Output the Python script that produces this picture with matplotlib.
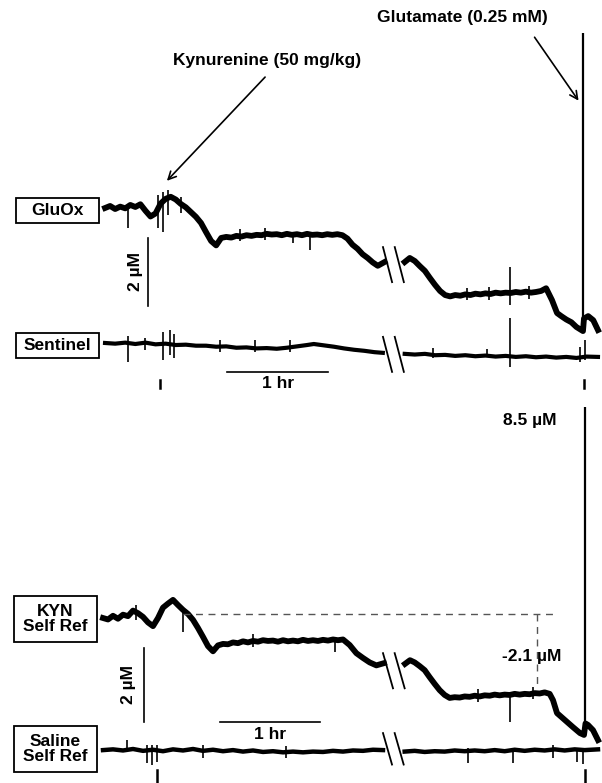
import matplotlib
matplotlib.use("Agg")
import matplotlib.pyplot as plt
import matplotlib.transforms as mtransforms
from matplotlib.patches import Rectangle
import numpy as np

plt.rcParams['font.family'] = ['Liberation Sans', 'DejaVu Sans']
plt.rcParams['font.weight'] = 'bold'

nan = np.nan

# ---- top panel: GluOx / Sentinel (time in min, signal in uM) ----
gluox_t = [0, 3, 6, 9, 12, 15, 18, 21, 24, 27, 30, 33, 36, 39, 42, 45, 48, 51, 54, 57, 60, 63, 66,
           69, 72, 75, 78, 81, 84, 87, 90, 93, 96, 99, 102, 105, 108, 111, 114, 117, 120, 123, 126,
           129, 132, 135, 138, 141, 144, 147, 150, 153, 156, 159, 162, 166, nan,
           178, 181, 184, 187, 190, 193, 196, 199, 202, 205,
           208, 211, 214, 217, 220, 223, 226, 229, 232, 235, 238, 241, 244, 247, 250, 253, 256, 259,
           262, 265.5, 268.5, 271, 274, 277, 280, 283.9, 284.5, 287, 290, 292.8]
gluox_c = [0, 0.06, -0.03, 0.04, -0.01, 0.09, 0.03, 0.11, -0.08, -0.25, -0.16, 0.13, 0.27, 0.33,
           0.25, 0.12, 0.02, -0.12, -0.26, -0.44, -0.71, -0.97, -1.10,
           -0.88, -0.85, -0.87, -0.82, -0.84, -0.80, -0.82, -0.79, -0.80, -0.76, -0.78, -0.77, -0.80,
           -0.76, -0.79, -0.77, -0.80, -0.76, -0.79, -0.78, -0.80, -0.77, -0.79, -0.77, -0.80,
           -0.90, -1.08, -1.20, -1.36, -1.47, -1.60, -1.70, -1.59, nan,
           -1.59, -1.47, -1.56, -1.71, -1.85, -2.06, -2.26, -2.44, -2.56, -2.60,
           -2.56, -2.58, -2.54, -2.56, -2.52, -2.54, -2.51, -2.53, -2.49, -2.51, -2.49, -2.50, -2.47,
           -2.49, -2.46, -2.49, -2.47, -2.44, -2.36, -2.71, -3.09, -3.18, -3.28, -3.36, -3.50, -3.62,
           -3.25, -3.18, -3.30, -3.59]
gluox_spike_t = [13.7, 31.5, 34.5, 37.4, 45.0, 80.0, 95.0, 111.7, 121.8, 215.0, 228.0, 240.6, 252.0]
gluox_spike_lo = [-0.59, -0.59, -0.71, -0.20, -0.15, -0.98, -0.95, -1.03, -1.24, -2.72, -2.70, -2.85, -2.68]
gluox_spike_hi = [0.12, 0.38, 0.47, 0.53, 0.32, -0.62, -0.60, -0.70, -0.76, -2.36, -2.32, -1.74, -2.28]
glu_spike_t = 284.0
glu_spike_top = 5.15

sentinel_t = [0, 6, 12, 18, 24, 30, 36, 42, 48, 54, 60, 66, 72, 78, 84, 90, 96, 102, 108, 114, 120,
              124, 130, 136, 142, 148, 154, 160, 165, nan,
              178, 184, 190, 196, 202, 208, 214, 220, 226, 232, 238, 244, 250, 256, 262, 268, 274,
              280, 286, 292.8]
sentinel_c = [0, -0.02, 0.01, -0.03, 0.01, -0.04, -0.02, -0.06, -0.05, -0.08, -0.08, -0.11, -0.10,
              -0.14, -0.13, -0.16, -0.15, -0.17, -0.14, -0.10, -0.06, -0.03, -0.07, -0.11, -0.16,
              -0.20, -0.23, -0.27, -0.29, nan,
              -0.32, -0.34, -0.32, -0.36, -0.35, -0.38, -0.36, -0.39, -0.37, -0.40, -0.38, -0.41,
              -0.39, -0.42, -0.40, -0.43, -0.41, -0.44, -0.40, -0.41]
sentinel_spike_t = [13.7, 23.8, 34.5, 38.6, 41.0, 68.3, 89.1, 109.9, 194.8, 226.9, 240.6, 282.2, 285.1]
sentinel_spike_lo = [-0.56, -0.21, -0.50, -0.35, -0.44, -0.26, -0.26, -0.26, -0.44, -0.38, -0.71, -0.56, -0.50]
sentinel_spike_hi = [0.21, 0.15, 0.32, 0.38, 0.26, 0.09, 0.09, 0.09, -0.15, -0.18, 0.74, -0.12, 0.09]

# ---- bottom panel: KYN self ref / Saline self ref ----
kyn_t = [0, 3, 6, 9, 12, 15, 18, 21, 24, 27, 30, 33, 36, 39, 42, 45, 48, 51, 54, 57, 60, 63, 66,
         69, 72, 75, 78, 81, 84, 87, 90, 93, 96, 99, 102, 105, 108, 111, 114, 117, 120, 123, 126,
         129, 132, 135, 138, 141, 144, 148, 152, 156, 160, 164, 168.6, nan,
         181.2, 184.2, 187, 190, 193, 196, 199, 202, 205, 208,
         211, 214, 217, 220, 223, 226, 229, 232, 235, 238, 241, 244, 247, 250, 253, 256, 259, 262,
         265, 268, 270, 272.4, 277.2, 282, 286.2, 288.6, 289.5, 291, 294, 297]
kyn_c = [0, -0.04, 0.06, -0.02, 0.09, 0.05, 0.20, 0.13, 0.03, -0.12, -0.22, 0, 0.28, 0.39, 0.49,
         0.35, 0.22, 0.11, -0.05, -0.27, -0.51, -0.76, -0.90,
         -0.74, -0.70, -0.71, -0.66, -0.68, -0.63, -0.66, -0.62, -0.64, -0.60, -0.62, -0.61, -0.64,
         -0.60, -0.63, -0.61, -0.63, -0.59, -0.62, -0.60, -0.62, -0.59, -0.61, -0.58, -0.60, -0.58,
         -0.73, -0.95, -1.08, -1.20, -1.28, -1.22, nan,
         -1.24, -1.14, -1.20, -1.30, -1.41, -1.60, -1.78, -1.95, -2.08, -2.16,
         -2.14, -2.15, -2.12, -2.13, -2.10, -2.12, -2.09, -2.10, -2.07, -2.09, -2.07, -2.08, -2.05,
         -2.07, -2.05, -2.06, -2.03, -2.04, -2.01, -2.05, -2.22, -2.57, -2.76, -2.95, -3.11, -3.16,
         -2.85, -2.89, -3.03, -3.30]
kyn_spike_t = [20.0, 48.0, 90.0, 139.2, 225.0, 244.2, 258.0]
kyn_spike_lo = [-0.05, -0.38, -0.78, -0.92, -2.28, -2.81, -2.20]
kyn_spike_hi = [0.36, 0.22, -0.44, -0.59, -1.92, -2.05, -1.86]
kyn_glu_t = 288.9
kyn_glu_top = 5.70

saline_t = [0, 6, 12, 18, 24, 30, 36, 42, 48, 54, 60, 66, 72, 78, 84, 90, 96, 102, 108, 114, 120,
            126, 132, 138, 144, 150, 156, 162, 168, nan,
            181, 187, 193, 199, 205, 211, 217, 223, 229, 235, 241, 247, 253, 259, 265, 271, 277,
            283, 289, 297]
saline_c = [0, 0.02, -0.01, 0.03, -0.02, 0.01, -0.03, 0.02, -0.01, 0.03, -0.02, 0.01, -0.03, 0.0,
            -0.04, -0.01, -0.05, -0.03, -0.06, -0.04, -0.06, -0.04, -0.05, -0.02, -0.04, -0.01,
            -0.02, 0.01, 0, nan,
            -0.04, -0.02, -0.05, -0.03, -0.04, -0.01, -0.03, -0.01, -0.03, 0.0, -0.03, 0.01, -0.02,
            0.01, -0.01, 0.02, -0.01, 0.02, 0.0, 0.02]
saline_spike_t = [14.4, 26.4, 29.4, 32.4, 60.0, 110.0, 219.0, 246.0, 270.0, 284.4, 288.0]
saline_spike_lo = [-0.05, -0.35, -0.41, -0.32, -0.20, -0.22, -0.35, -0.35, -0.20, -0.32, -0.38]
saline_spike_hi = [0.27, 0.14, 0.14, 0.14, 0.15, 0.12, 0.05, 0.05, 0.14, 0.05, 0.05]

drop_uM = 2.1
glu_uM = 8.5

fig = plt.figure(figsize=(6.02, 7.83), dpi=100)
pix = mtransforms.Affine2D().scale(1 / 602, -1 / 783).translate(0, 1) + fig.transFigure

ax1 = fig.add_axes([0, 1 - 390 / 783, 1, 390 / 783])
ax1.set_xlim(-62.4, 295.2)
ax1.set_ylim(-5.353, 6.118)
ax2 = fig.add_axes([0, 0, 1, 393 / 783])
ax2.set_xlim(-61.8, 299.4)
ax2.set_ylim(-4.459, 6.162)
for ax in (ax1, ax2):
    ax.axis('off')

off_sent = -3.97
off_sal = -3.57


def trace(ax, t, c, st, lo, hi, off, lw):
    ax.plot(t, np.array(c) + off, color='black', lw=lw, solid_joinstyle='round')
    ax.vlines(st, np.array(lo) + off, np.array(hi) + off, color='black', lw=1.2)


trace(ax1, gluox_t, gluox_c, gluox_spike_t, gluox_spike_lo, gluox_spike_hi, 0, 4.2)
trace(ax1, sentinel_t, sentinel_c, sentinel_spike_t, sentinel_spike_lo, sentinel_spike_hi, off_sent, 3.0)
trace(ax2, kyn_t, kyn_c, kyn_spike_t, kyn_spike_lo, kyn_spike_hi, 0, 4.2)
trace(ax2, saline_t, saline_c, saline_spike_t, saline_spike_lo, saline_spike_hi, off_sal, 3.2)

# glutamate responses
ax1.vlines(glu_spike_t, gluox_c[gluox_t.index(283.9)], glu_spike_top, color='black', lw=1.6)
ax2.vlines(kyn_glu_t, kyn_c[kyn_t.index(288.6)], kyn_glu_top, color='black', lw=1.6)


def breakmark(ax, t0, c0, dt, dc):
    for s in (0, 7):
        ax.plot([t0 + s, t0 + s + dt], [c0, c0 - dc], color='black', lw=1.3)


breakmark(ax1, 165.1, -1.15, 5.4, 1.03)
breakmark(ax1, 165.1, -3.79, 5.4, 1.03)
breakmark(ax2, 168.0, -0.95, 6.0, 0.95)
breakmark(ax2, 168.0, -3.11, 5.4, 0.85)

fs = 12.5
# scale bars
ax1.plot([72.5, 72.5 + 60], [-4.82, -4.82], color='black', lw=1.2)
ax1.text(102.5, -5.15, '1 hr', ha='center', va='center', fontsize=fs)
ax1.plot([25.5, 25.5], [-0.88, -2.88], color='black', lw=1.2)
ax1.text(17.8, -1.88, '2 µM', ha='center', va='center', rotation=90, fontsize=fs)
ax2.plot([70.2, 70.2 + 60], [-2.81, -2.81], color='black', lw=1.2)
ax2.text(100.2, -3.16, '1 hr', ha='center', va='center', fontsize=fs)
ax2.plot([24.6, 24.6], [-0.81, -2.81], color='black', lw=1.2)
ax2.text(15.0, -1.81, '2 µM', ha='center', va='center', rotation=90, fontsize=fs)

# injection markers
for t in (32.7, 284.5):
    ax1.plot([t, t], [-5.06, -5.29], color='black', lw=1.8)
for t in (32.4, 289.2):
    ax2.plot([t, t], [-4.11, -4.46], color='black', lw=1.8, clip_on=False)

# annotations
ax1.annotate('', xy=(35.6, 0.74), xytext=(96.2, 3.91),
             arrowprops=dict(arrowstyle='->', lw=1.2, mutation_scale=14, color='black'))
ax1.text(96.2, 4.35, 'Kynurenine (50 mg/kg)', ha='center', va='center', fontsize=fs)
ax1.annotate('', xy=(282.2, 3.09), xytext=(254.2, 5.09),
             arrowprops=dict(arrowstyle='->', lw=1.2, mutation_scale=14, color='black'))
ax1.text(212.1, 5.59, 'Glutamate (0.25 mM)', ha='center', va='center', fontsize=fs)

peak = 0.11
ax2.plot([48.0, 270.0], [peak, peak], color='#555555', lw=1.0, ls=(0, (5, 4)))
ax2.plot([260.4, 260.4], [peak, peak - drop_uM + 0.1], color='#555555', lw=1.0, ls=(0, (5, 4)))
ax2.text(257.4, -1.05, f'-{drop_uM} µM', ha='center', va='center', fontsize=fs)
ax2.text(256.2, 5.35, f'{glu_uM} µM', ha='center', va='center', fontsize=fs)

# label boxes
labels = ['GluOx', 'Sentinel', 'KYN\nSelf Ref', 'Saline\nSelf Ref']
boxes = [(16, 198, 83, 25), (16, 333, 83, 25), (14, 596, 83, 46), (14, 726, 83, 46)]
for lab, (bx, by, bw, bh) in zip(labels, boxes):
    fig.patches.append(Rectangle((bx, by), bw, bh, transform=pix, fill=False,
                                 edgecolor='black', lw=1.3))
    fig.text(bx + bw / 2, by + bh / 2, lab, transform=pix, ha='center', va='center',
             fontsize=fs, linespacing=1.0)

fig.savefig('out.png', dpi=100)
